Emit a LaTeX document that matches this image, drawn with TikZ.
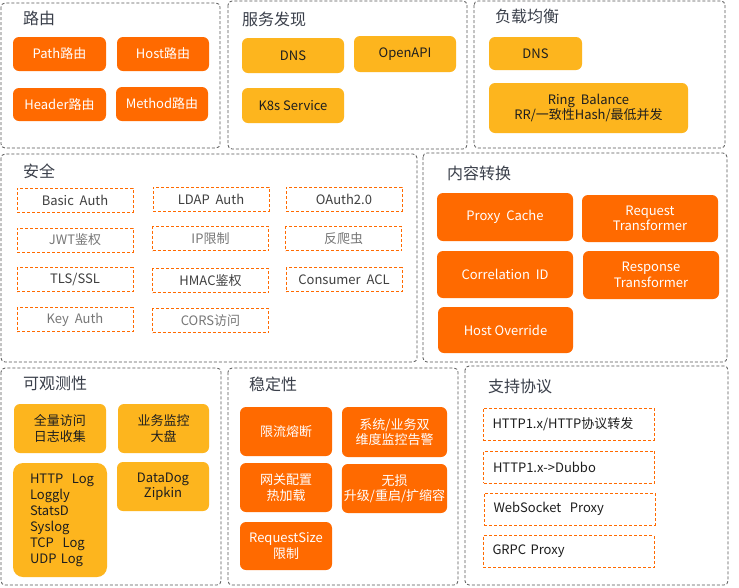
\documentclass[tikz,border=0pt]{standalone}
\usepackage{fontspec}
\setmainfont{Noto Sans CJK SC}
\definecolor{aliorange}{HTML}{FF6A00}
\definecolor{aliyellow}{HTML}{FDB51E}
\definecolor{paneline}{HTML}{555555}
\definecolor{titlecol}{HTML}{3A3F4A}
\definecolor{darktext}{HTML}{1E1E1E}
\definecolor{graytext}{HTML}{5A5A5A}
\definecolor{lightgraytext}{HTML}{777777}
\newcommand{\ind}{\hspace*{6pt}}
\begin{document}
\begin{tikzpicture}[x=1pt,y=-1pt,
  panel/.style={draw=paneline,line width=0.8pt,dash pattern=on 3pt off 2pt,rounded corners=4pt},
  ptitle/.style={anchor=west,inner sep=0pt,text=titlecol,font=\fontsize{16}{18}\selectfont},
  obox/.style={fill=aliorange,rounded corners=6pt,text=white,align=center,inner sep=2pt,
    font=\fontsize{13}{15.5}\selectfont},
  ybox/.style={fill=aliyellow,rounded corners=6pt,text=darktext,align=center,inner sep=2pt,
    font=\fontsize{13}{15.5}\selectfont},
  dbox/.style={draw=aliorange,line width=0.8pt,dash pattern=on 3pt off 2pt,text=graytext,
    minimum width=116pt,minimum height=24pt,inner sep=1pt,font=\fontsize{13}{15.5}\selectfont},
  pbox/.style={draw=aliorange,line width=0.8pt,dash pattern=on 3pt off 2pt,text=darktext,
    text width=152pt,align=left,inner xsep=9.5pt,inner ysep=1pt,minimum height=32pt,
    font=\fontsize{13}{15.5}\selectfont}]
\useasboundingbox (0,0) rectangle (739,587);
\fill[white] (0,0) rectangle (739,587);

% panels
\draw[panel] (1,3) rectangle (220,148);
\draw[panel] (228,1) rectangle (467,149);
\draw[panel] (474,1) rectangle (725,148);
\draw[panel] (1,154) rectangle (417,362);
\draw[panel] (423,153) rectangle (727,362);
\draw[panel] (1,368) rectangle (221,585);
\draw[panel] (228,368) rectangle (458,585);
\draw[panel] (465,366) rectangle (728,585);

% titles
\node[ptitle] (t1) at (23,18) {路由};
\node[ptitle] (t2) at (242,19) {服务发现};
\node[ptitle] (t3) at (495,16) {负载均衡};
\node[ptitle] (t4) at (23,171) {安全};
\node[ptitle] (t5) at (447,173) {内容转换};
\node[ptitle] (t6) at (23,383) {可观测性};
\node[ptitle] (t7) at (249,384) {稳定性};
\node[ptitle] (t8) at (488,386) {支持协议};

% 路由
\node[obox,minimum width=93pt,minimum height=34pt] (path) at (59.5,54) {Path路由};
\node[obox,minimum width=92pt,minimum height=34pt] (host) at (163,54) {Host路由};
\node[obox,minimum width=93pt,minimum height=33pt] (header) at (59.5,104.5) {Header路由};
\node[obox,minimum width=92pt,minimum height=34pt] (method) at (162,104) {Method路由};

% 服务发现
\node[ybox,minimum width=102pt,minimum height=35pt] (dns1) at (293,55.5) {DNS};
\node[ybox,minimum width=102pt,minimum height=36pt] (openapi) at (405,54) {OpenAPI};
\node[ybox,minimum width=102pt,minimum height=35pt] (k8s) at (293,105.5) {K8s Service};

% 负载均衡
\node[ybox,minimum width=93pt,minimum height=33pt] (dns2) at (535.5,53.5) {DNS};
\node[ybox,minimum width=199pt,minimum height=50pt] (ring) at (588.5,108) {Ring\ \ Balance\\RR/一致性Hash/最低并发};

% 安全
\node[dbox,text=darktext!85] (basic) at (75,200) {Basic\ \ Auth};
\node[dbox,text=darktext!85] (ldap) at (211,199) {LDAP\ \ Auth};
\node[dbox,text=darktext!85] (oauth) at (344,199) {OAuth2.0};
\node[dbox,text=lightgraytext] (jwt) at (75,240) {JWT鉴权};
\node[dbox,text=lightgraytext] (ip) at (210.5,238.5) {IP限制};
\node[dbox,text=lightgraytext] (crawl) at (343.5,238.5) {反爬虫};
\node[dbox,text=darktext!85] (tls) at (75,279.5) {TLS/SSL};
\node[dbox,text=darktext!85] (hmac) at (210.5,280.5) {HMAC鉴权};
\node[dbox,text=darktext!85] (acl) at (344,279.5) {Consumer\ \ ACL};
\node[dbox,text=lightgraytext] (key) at (75,319.5) {Key\ \ Auth};
\node[dbox,text=lightgraytext] (cors) at (210.5,320.5) {CORS访问};

% 内容转换
\node[obox,minimum width=136pt,minimum height=48pt] (cache) at (505,217) {Proxy\ \ Cache};
\node[obox,minimum width=136pt,minimum height=47pt] (reqt) at (650,218.5) {Request\\Transformer};
\node[obox,minimum width=136pt,minimum height=47pt] (corr) at (505,274.5) {Correlation\ \ ID};
\node[obox,minimum width=136pt,minimum height=48pt] (respt) at (651,275) {Response\\Transformer};
\node[obox,minimum width=135pt,minimum height=46pt] (hover) at (505.5,330) {Host Override};

% 可观测性
\node[ybox,minimum width=92pt,minimum height=49pt] (fulllog) at (60,428.5) {全量访问\\日志收集};
\node[ybox,minimum width=91pt,minimum height=49pt] (bizmon) at (163.5,428.5) {业务监控\\大盘};
\node[ybox,rounded corners=10pt,minimum width=94pt,minimum height=114pt,text width=72pt,align=left,inner xsep=11pt,
  font=\fontsize{13}{16}\selectfont] (logs) at (60,520)
  {\ind HTTP\ \ Log\\\ind Loggly\\\ind StatsD\\\ind Syslog\\\ind TCP\ \ Log\\\ind UDP\ Log};
\node[ybox,minimum width=92pt,minimum height=49pt] (dd) at (163,486.5) {DataDog\\Zipkin};

% 稳定性
\node[obox,minimum width=92pt,minimum height=49pt] (rl) at (286,431.5) {限流熔断};
\node[obox,minimum width=105pt,minimum height=50pt] (mon) at (394.5,432) {系统/业务双\\维度监控告警};
\node[obox,minimum width=92pt,minimum height=49pt] (hot) at (286,487.5) {网关配置\\热加载};
\node[obox,minimum width=105pt,minimum height=49pt] (lossless) at (394.5,488.5) {无损\\升级/重启/扩缩容};
\node[obox,minimum width=92pt,minimum height=48pt] (rsize) at (286,546) {RequestSize\\限制};

% 支持协议
\node[pbox] (http) at (568.5,424) {HTTP1.x/HTTP协议转发};
\node[pbox] (dubbo) at (569,467) {HTTP1.x->Dubbo};
\node[pbox] (ws) at (569.5,509) {WebSocket\ \ Proxy};
\node[pbox] (grpc) at (568.5,551.5) {GRPC Proxy};
\end{tikzpicture}
\end{document}
